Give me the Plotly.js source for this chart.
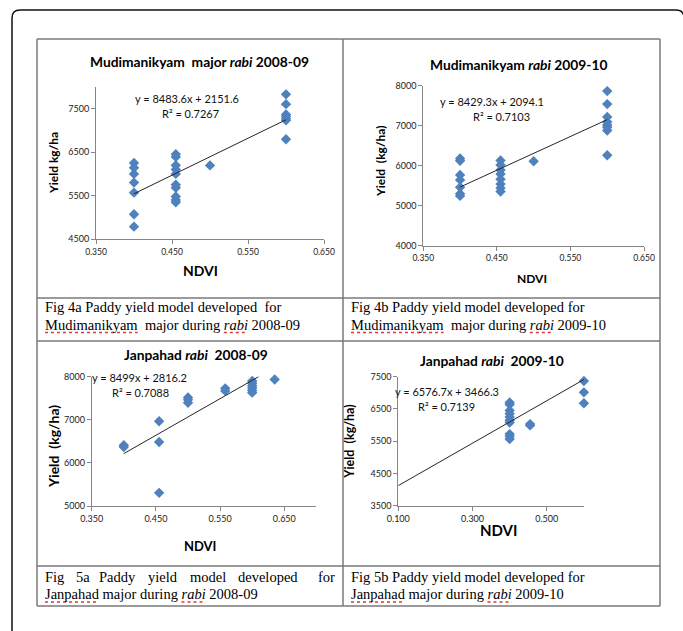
<!DOCTYPE html>
<html>
<head>
<meta charset="utf-8">
<script src="https://cdn.plot.ly/plotly-3.0.1.min.js"></script>
<style>html,body{margin:0;padding:0;background:#fff;}#chart{width:683px;height:631px;}</style>
</head>
<body>
<div id="chart"></div>
<script>
// ---------- DATA ----------
// Fig 4a  Mudimanikyam major rabi 2008-09
const ndvi4a  = [0.4,0.4,0.4,0.4,0.4,0.4,0.4, 0.455,0.455,0.455,0.455,0.455,0.455,0.455,0.455,0.455,0.455, 0.5, 0.6,0.6,0.6,0.6,0.6,0.6,0.6];
const yield4a = [6250,6140,6000,5800,5570,5075,4790, 6450,6390,6200,6100,6000,5750,5680,5480,5400,5350, 6195, 7825,7600,7365,7325,7270,7230,6795];
// Fig 4b  Mudimanikyam rabi 2009-10
const ndvi4b  = [0.4,0.4,0.4,0.4,0.4,0.4,0.4, 0.455,0.455,0.455,0.455,0.455,0.455,0.455,0.455, 0.5, 0.6,0.6,0.6,0.6,0.6,0.6,0.6,0.6];
const yield4b = [6180,6125,5770,5645,5460,5300,5245, 6130,6020,5895,5790,5660,5540,5440,5355, 6110, 7865,7540,7220,7095,7020,6960,6880,6260];
// Fig 5a  Janpahad rabi 2008-09
const ndvi5a  = [0.4,0.4, 0.455,0.455,0.455, 0.5,0.5,0.5, 0.558,0.558, 0.6,0.6,0.6,0.6,0.6,0.6, 0.635];
const yield5a = [6410,6370, 6965,6485,5305, 7520,7465,7395, 7730,7670, 7900,7850,7790,7740,7680,7630, 7935];
// Fig 5b  Janpahad rabi 2009-10
const ndvi5b  = [0.4,0.4,0.4,0.4,0.4,0.4,0.4,0.4,0.4,0.4, 0.455,0.455, 0.6,0.6,0.6];
const yield5b = [6700,6640,6450,6350,6250,6150,6080,5720,5650,5570, 6030,5990, 7365,7015,6675];

// trendline equations (slope, intercept) and x-span as shown
const slopes     = [8483.6, 8429.3, 8499, 6576.7];
const intercepts = [2151.6, 2094.1, 2816.2, 3466.3];
const r2         = ['0.7267','0.7103','0.7088','0.7139'];
const trendFrom  = [0.4, 0.4, 0.4, 0.1];
const trendTo    = [0.6, 0.6, 0.635, 0.6];

const titles = ['Mudimanikyam  major <i>rabi</i> 2008-09','Mudimanikyam <i>rabi</i> 2009-10','Janpahad <i>rabi</i>  2008-09','Janpahad <i>rabi</i>  2009-10'];
const yTitles = ['Yield kg/ha','Yield  (kg/ha)','Yield  (kg/ha)','Yield  (kg/ha)'];
const xTitle = 'NDVI';

const xTicks4 = [0.35,0.45,0.55,0.65];
const xTicks5a = [0.35,0.45,0.55,0.65];
const xTicks5b = [0.1,0.3,0.5];
const yTicks4a = [4500,5500,6500,7500];
const yTicks4b = [4000,5000,6000,7000,8000];
const yTicks5a = [5000,6000,7000,8000];
const yTicks5b = [3500,4500,5500,6500,7500];

// ---------- LAYOUT HELPERS ----------
const W = 683, H = 631;
const px = v => v / W;
const py = v => 1 - v / H;

const CH = 'Lato, "Open Sans", sans-serif';
const SERIF = '"Liberation Serif", "Times New Roman", serif';
const BLUE = '#4F81BD';

const sets = [[ndvi4a,yield4a],[ndvi4b,yield4b],[ndvi5a,yield5a],[ndvi5b,yield5b]];
const traces = [];
sets.forEach((s,i) => {
  const ax = i === 0 ? '' : String(i+1);
  traces.push({x:s[0], y:s[1], xaxis:'x'+ax, yaxis:'y'+ax, type:'scatter', mode:'markers',
    marker:{symbol:'diamond', size:8, color:BLUE, line:{width:0}}, cliponaxis:false, showlegend:false, hoverinfo:'skip'});
  const tx = [trendFrom[i], trendTo[i]];
  traces.push({x:tx, y:tx.map(v => slopes[i]*v + intercepts[i]), xaxis:'x'+ax, yaxis:'y'+ax, type:'scatter', mode:'lines',
    line:{color:'#262626', width:1}, showlegend:false, hoverinfo:'skip'});
});

function axis(domain, range, tickvals, fmt, anchor, fs){
  return {domain, range, tickvals, tickformat:fmt, anchor, showline:true, linecolor:'#868686', linewidth:1,
    ticks:'outside', ticklen:4, tickcolor:'#868686', tickwidth:1, showgrid:false, zeroline:false,
    tickfont:{family:CH, size:fs||8.5, color:'#1a1a1a'}, fixedrange:true};
}

const layout = {
  width:W, height:H, margin:{l:0,r:0,t:0,b:0}, paper_bgcolor:'#fff', plot_bgcolor:'rgba(0,0,0,0)',
  showlegend:false,
  xaxis:  axis([px(96),px(324)],   [0.35,0.65], xTicks4, '.3f', 'y'),
  yaxis:  axis([py(239.3),py(86.7)], [4500,8000], yTicks4a, 'd', 'x', 9),
  xaxis2: axis([px(423.3),px(644)], [0.35,0.65], xTicks4, '.3f', 'y2'),
  yaxis2: axis([py(245.7),py(85.7)], [4000,8000], yTicks4b, 'd', 'x2', 9),
  xaxis3: axis([px(91.7),px(316.4)], [0.35,0.70], xTicks5a, '.3f', 'y3', 9),
  yaxis3: axis([py(506),py(376.7)], [5000,8000], yTicks5a, 'd', 'x3', 9),
  xaxis4: axis([px(398.3),px(583.9)], [0.1,0.6], xTicks5b, '.3f', 'y4', 9),
  yaxis4: axis([py(505.7),py(376.7)], [3500,7500], yTicks5b, 'd', 'x4', 9),
  shapes:[], annotations:[]
};

// outer rounded frame
layout.shapes.push({type:'path', xref:'paper', yref:'paper',
  path:`M ${px(12)},${py(640)} L ${px(12)},${py(18)} Q ${px(12)},${py(10)} ${px(20)},${py(10)} L ${px(676)},${py(10)} Q ${px(684)},${py(10)} ${px(684)},${py(18)} L ${px(684)},${py(640)}`,
  line:{color:'#111', width:1.5}});
// table grid
const TL=37, TR=660, TT=39, TM=343, TB=606;
const hLines=[TT,298,341,566,TB];
hLines.forEach(y => layout.shapes.push({type:'line', xref:'paper', yref:'paper', x0:px(TL), x1:px(TR), y0:py(y), y1:py(y), line:{color:'#7a7a7a', width:1.5}}));
[TL,TM,TR].forEach(x => layout.shapes.push({type:'line', xref:'paper', yref:'paper', x0:px(x), x1:px(x), y0:py(TT), y1:py(TB), line:{color:'#7a7a7a', width:1.5}}));

function ann(text, x, y, opt){
  layout.annotations.push(Object.assign({text, x:px(x), y:py(y), xref:'paper', yref:'paper', showarrow:false,
    xanchor:'center', yanchor:'middle', font:{family:CH, size:11, color:'#000'}}, opt||{}));
}

// chart titles
const titlePos = [[199,61.7],[518.3,65],[196,354],[491.7,360]];
titles.forEach((t,i) => ann('<b>'+t+'</b>', titlePos[i][0], titlePos[i][1], {font:{family:CH, size:13.8, color:'#000'}}));
// equations
const eqPos = [[186.7,98.3,190,113],[491.7,101,501.7,116],[139,377.3,140,392.3],[446.7,391,446,406.7]];
eqPos.forEach((p,i) => {
  ann('y = '+slopes[i]+'x + '+intercepts[i], p[0], p[1], {font:{family:CH, size:11, color:'#111'}});
  ann('R² = '+r2[i], p[2], p[3], {font:{family:CH, size:11, color:'#111'}});
});
// y titles
const yTPos = [[53,163,12],[380,162,12],[53.3,446.7,14],[350,441.7,12.5]];
yTitles.forEach((t,i) => ann('<b>'+t+'</b>', yTPos[i][0], yTPos[i][1], {textangle:-90, font:{family:CH, size:yTPos[i][2], color:'#000'}}));
// x titles
const xTPos = [[200,270,14],[531.7,278.3,12],[200,546,13],[498.3,530,15]];
xTPos.forEach(p => ann('<b>'+xTitle+'</b>', p[0], p[1], {font:{family:CH, size:p[2], color:'#000'}}));

// captions (Times-like serif) with red spell-check squiggles drawn as dotted red lines
const CAP_SIZE = 14.5;
const capFont = {family:SERIF, size:CAP_SIZE, color:'#000'};
const cap = (t,x,y) => ann(t, x, y, {xanchor:'left', font:capFont});
const ctx = document.createElement('canvas').getContext('2d');
function tw(s, italic){ ctx.font = (italic?'italic ':'') + CAP_SIZE + 'px "Liberation Serif"'; return ctx.measureText(s).width; }
function squiggle(x, y, prefix, word, italic){
  const x0 = x + 2 + tw(prefix, false);
  const x1 = x0 + tw(word, italic);
  const yy = y + 8;
  layout.shapes.push({type:'line', xref:'paper', yref:'paper', x0:px(x0), x1:px(x1), y0:py(yy), y1:py(yy),
    line:{color:'#e03a3a', width:1.3, dash:'dot'}});
}
function capLine(parts, x, y){
  // parts: [text, italic, squiggled]
  let html = '', plain = '';
  parts.forEach(p => {
    if (p[2]) squiggle(x, y, plain, p[0], p[1]);
    html += p[1] ? '<i>'+p[0]+'</i>' : p[0];
    plain += p[0];
  });
  cap(html, x, y);
}
capLine([['Fig 4a Paddy yield model developed  for',0,0]], 43, 307);
capLine([['Mudimanikyam',0,1],['  major during ',0,0],['rabi',1,1],[' 2008-09',0,0]], 43, 324.5);
capLine([['Fig 4b Paddy yield model developed for',0,0]], 349, 307);
capLine([['Mudimanikyam',0,1],['  major during ',0,0],['rabi',1,1],[' 2009-10',0,0]], 349, 324.5);
const words5a = ['Fig','5a','Paddy','yield','model','developed','for'];
const wordX5a = [43,73.6,96.6,146,188,236,316];
words5a.forEach((w,i) => cap(w, wordX5a[i], 577));
capLine([['Janpahad',0,1],[' major during ',0,0],['rabi',1,1],[' 2008-09',0,0]], 43, 594);
capLine([['Fig 5b Paddy yield model developed for',0,0]], 349, 577);
capLine([['Janpahad',0,1],[' major during ',0,0],['rabi',1,1],[' 2009-10',0,0]], 349, 594);

Plotly.newPlot('chart', traces, layout, {staticPlot:true, displayModeBar:false});
</script>
</body>
</html>
